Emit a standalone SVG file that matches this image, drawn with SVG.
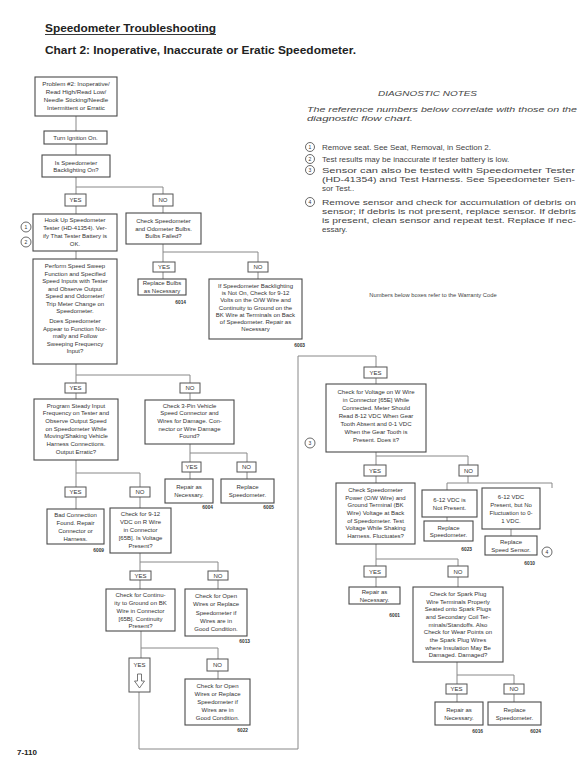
<svg xmlns="http://www.w3.org/2000/svg" width="583" height="774" viewBox="0 0 583 774">
<style>
.b{fill:#fff;stroke:#4a4a4a;stroke-width:1.1}
.y{fill:#fff;stroke:#555;stroke-width:1}
.t{font-family:"Liberation Sans",Arial,sans-serif;font-size:6px;fill:#333;text-anchor:middle}
.k{font-family:"Liberation Sans",Arial,sans-serif;font-size:4.8px;font-weight:bold;fill:#333;text-anchor:end}
.c{stroke:#888;fill:none;stroke-width:1}
.n{font-family:"Liberation Sans",Arial,sans-serif;font-size:8px;fill:#444}
.ci{fill:#fff;stroke:#444;stroke-width:0.8}
.cn{font-family:"Liberation Sans",Arial,sans-serif;font-size:5px;fill:#333;text-anchor:middle}
</style>
<rect width="583" height="774" fill="#fff"/>
<g id="title">
<text x="45" y="32" font-family="Liberation Sans,Arial,sans-serif" font-size="11" font-weight="bold" fill="#222" textLength="171" lengthAdjust="spacingAndGlyphs">Speedometer Troubleshooting</text>
<line x1="45" y1="34.5" x2="216" y2="34.5" stroke="#222" stroke-width="0.9"/>
<text x="45" y="54" font-family="Liberation Sans,Arial,sans-serif" font-size="11.5" font-weight="bold" fill="#222" textLength="311" lengthAdjust="spacingAndGlyphs">Chart 2: Inoperative, Inaccurate or Eratic Speedometer.</text>
</g>
<g id="connectors">
<path class="c" d="M76 116V131M76 144V155M76 177V187M76 187H163M76 187V194M163 187V194M76 206V214M163 206V213"/>
<path class="c" d="M163 244V252H258V262M163 252V262M163 272V279M258 272V279M76 251V259"/>
<path class="c" d="M76 364V375H190V383M76 375V383M76 393V399M190 393V400"/>
<path class="c" d="M190 444V453H247V462M190 453V462M190 472V479M247 472V479"/>
<path class="c" d="M76 460V473H140V487M76 473V487M76 497V509M140 497V508"/>
<path class="c" d="M140 553V562H218V571M140 562V571M140 580V589M218 580V589"/>
<path class="c" d="M141 631V648H218V659M141 648V658M218 671V679"/>
<path class="c" d="M139 692V749H298V356H376V367"/>
<path class="c" d="M376 378V384M376 452V456H468V465M376 456V465M376 476V483M468 476V483M447 483H552M447 483V490M552 483V488M447 517V521M511 529V536"/>
<path class="c" d="M376 544V559H458V566M376 559V566M376 577V587M458 577V587"/>
<path class="c" d="M457 662V675H514V684M457 675V684M457 694V702M514 694V702"/>
</g>
<g id="n1"><rect class="b" x="35" y="77" width="82" height="39"/>
<text class="t" style="font-size:6.2px"><tspan x="76" y="85.6">Problem #2: Inoperative/</tspan><tspan x="76" y="93.6">Read High/Read Low/</tspan><tspan x="76" y="101.6">Needle Sticking/Needle</tspan><tspan x="76" y="109.6">Intermittent or Erratic</tspan></text></g>
<g id="n2"><rect class="b" x="44" y="131" width="63" height="13"/><text class="t" x="75.5" y="139.7">Turn Ignition On.</text></g>
<g id="n3"><rect class="b" x="42" y="155" width="68" height="22"/>
<text class="t"><tspan x="76" y="164.5">Is Speedometer</tspan><tspan x="76" y="172">Backlighting On?</tspan></text></g>
<g id="yes1"><rect class="y" x="65" y="194" width="21" height="12"/><text class="t" x="75.5" y="202.2">YES</text></g>
<g id="no1"><rect class="y" x="153" y="194" width="20" height="12"/><text class="t" x="163" y="202.2">NO</text></g>
<g id="n4"><rect class="b" x="33" y="214" width="84" height="37"/>
<text class="t"><tspan x="75" y="222.1">Hook Up Speedometer</tspan><tspan x="75" y="230.1">Tester (HD-41354). Ver-</tspan><tspan x="75" y="238.1">ify That Tester Battery is</tspan><tspan x="75" y="246.1">OK.</tspan></text></g>
<g id="ref1"><circle class="ci" cx="26" cy="227" r="5"/><text class="cn" x="26" y="228.8">1</text></g>
<g id="ref2"><circle class="ci" cx="26" cy="242" r="5"/><text class="cn" x="26" y="243.8">2</text></g>
<g id="n5"><rect class="b" x="126" y="213" width="75" height="31"/>
<text class="t"><tspan x="163.5" y="222.9">Check Speedometer</tspan><tspan x="163.5" y="230.6">and Odometer Bulbs.</tspan><tspan x="163.5" y="238.3">Bulbs Failed?</tspan></text></g>
<g id="yes2"><rect class="y" x="153" y="262" width="22" height="10"/><text class="t" x="164" y="269.2">YES</text></g>
<g id="no2"><rect class="y" x="248" y="262" width="20" height="10"/><text class="t" x="258" y="269.2">NO</text></g>
<g id="n6"><rect class="b" x="138" y="279" width="48" height="16"/>
<text class="t"><tspan x="162" y="285.3">Replace Bulbs</tspan><tspan x="162" y="292.8">as Necessary</tspan></text>
<text class="k" x="186" y="304">6014</text></g>
<g id="n7"><rect class="b" x="209" y="279" width="93" height="60"/>
<text class="t"><tspan x="255.5" y="287.6">If Speedometer Backlighting</tspan><tspan x="255.5" y="294.9">is Not On, Check for 9-12</tspan><tspan x="255.5" y="302.2">Volts on the O/W Wire and</tspan><tspan x="255.5" y="309.5">Continuity to Ground on the</tspan><tspan x="255.5" y="316.8">BK Wire at Terminals on Back</tspan><tspan x="255.5" y="324.1">of Speedometer. Repair as</tspan><tspan x="255.5" y="331.4">Necessary</tspan></text>
<text class="k" x="305" y="347">6003</text></g>
<g id="n8"><rect class="b" x="33" y="259" width="84" height="105"/>
<text class="t"><tspan x="75" y="268.1">Perform Speed Sweep</tspan><tspan x="75" y="275.6">Function and Specified</tspan><tspan x="75" y="283.1">Speed Inputs with Tester</tspan><tspan x="75" y="290.6">and Observe Output</tspan><tspan x="75" y="298.1">Speed and Odometer/</tspan><tspan x="75" y="305.6">Trip Meter Change on</tspan><tspan x="75" y="313.1">Speedometer.</tspan><tspan x="75" y="323.1">Does Speedometer</tspan><tspan x="75" y="330.6">Appear to Function Nor-</tspan><tspan x="75" y="338.1">mally and Follow</tspan><tspan x="75" y="345.6">Sweeping Frequency</tspan><tspan x="75" y="353.1">Input?</tspan></text></g>
<g id="yes3"><rect class="y" x="65" y="383" width="21" height="10"/><text class="t" x="75.5" y="390.2">YES</text></g>
<g id="no3"><rect class="y" x="180" y="383" width="20" height="10"/><text class="t" x="190" y="390.2">NO</text></g>
<g id="n9"><rect class="b" x="34" y="399" width="84" height="61"/>
<text class="t"><tspan x="76" y="407.6">Program Steady Input</tspan><tspan x="76" y="415.3">Frequency on Tester and</tspan><tspan x="76" y="423">Observe Output Speed</tspan><tspan x="76" y="430.7">on Speedometer While</tspan><tspan x="76" y="438.4">Moving/Shaking Vehicle</tspan><tspan x="76" y="446.1">Harness Connections.</tspan><tspan x="76" y="453.8">Output Erratic?</tspan></text></g>
<g id="n10"><rect class="b" x="145" y="400" width="89" height="44"/>
<text class="t"><tspan x="189.5" y="407.6">Check 3-Pin Vehicle</tspan><tspan x="189.5" y="415.3">Speed Connector and</tspan><tspan x="189.5" y="423">Wires for Damage. Con-</tspan><tspan x="189.5" y="430.7">nector or Wire Damage</tspan><tspan x="189.5" y="438.4">Found?</tspan></text></g>
<g id="yes4"><rect class="y" x="182" y="462" width="19" height="10"/><text class="t" x="191.5" y="469.2">YES</text></g>
<g id="no4"><rect class="y" x="237" y="462" width="19" height="10"/><text class="t" x="246.5" y="469.2">NO</text></g>
<g id="n11"><rect class="b" x="165" y="479" width="48" height="24"/>
<text class="t"><tspan x="189" y="489.1">Repair as</tspan><tspan x="189" y="497.1">Necessary.</tspan></text>
<text class="k" x="213" y="509">6004</text></g>
<g id="n12"><rect class="b" x="221" y="479" width="53" height="24"/>
<text class="t"><tspan x="247.5" y="489.1">Replace</tspan><tspan x="247.5" y="497.1">Speedometer.</tspan></text>
<text class="k" x="274" y="509">6005</text></g>
<g id="yes5"><rect class="y" x="65" y="487" width="21" height="10"/><text class="t" x="75.5" y="494.2">YES</text></g>
<g id="no5"><rect class="y" x="130" y="487" width="20" height="10"/><text class="t" x="140" y="494.2">NO</text></g>
<g id="n13"><rect class="b" x="47" y="509" width="57" height="35"/>
<text class="t"><tspan x="75.5" y="516.6">Bad Connection</tspan><tspan x="75.5" y="524.6">Found. Repair</tspan><tspan x="75.5" y="532.6">Connector or</tspan><tspan x="75.5" y="540.6">Harness.</tspan></text>
<text class="k" x="104" y="552">6009</text></g>
<g id="n14"><rect class="b" x="110" y="508" width="61" height="45"/>
<text class="t"><tspan x="140.5" y="516.1">Check for 9-12</tspan><tspan x="140.5" y="524.1">VDC on R Wire</tspan><tspan x="140.5" y="532.1">in Connector</tspan><tspan x="140.5" y="540.1">[65B]. Is Voltage</tspan><tspan x="140.5" y="548.1">Present?</tspan></text></g>
<g id="yes6"><rect class="y" x="130" y="571" width="21" height="9"/><text class="t" x="140.5" y="577.7">YES</text></g>
<g id="no6"><rect class="y" x="208" y="571" width="20" height="9"/><text class="t" x="218" y="577.7">NO</text></g>
<g id="n15"><rect class="b" x="106" y="589" width="69" height="42"/>
<text class="t"><tspan x="140.5" y="597.1">Check for Continu-</tspan><tspan x="140.5" y="604.9">ity to Ground on BK</tspan><tspan x="140.5" y="612.7">Wire in Connector</tspan><tspan x="140.5" y="620.5">[65B]. Continuity</tspan><tspan x="140.5" y="628.3">Present?</tspan></text></g>
<g id="n16"><rect class="b" x="185" y="589" width="62" height="47"/>
<text class="t"><tspan x="216" y="598.1">Check for Open</tspan><tspan x="216" y="606.3">Wires or Replace</tspan><tspan x="216" y="614.5">Speedometer if</tspan><tspan x="216" y="622.7">Wires are in</tspan><tspan x="216" y="630.9">Good Condition.</tspan></text>
<text class="k" x="250" y="643">6013</text></g>
<g id="yes7"><rect class="y" x="129" y="658" width="21" height="34"/><text class="t" x="139.5" y="667">YES</text>
<polygon points="137.5,674 141.5,674 141.5,681 144.5,681 139.5,688 134.5,681 137.5,681" fill="#fff" stroke="#555" stroke-width="0.8"/></g>
<g id="no7"><rect class="y" x="207" y="659" width="21" height="12"/><text class="t" x="217.5" y="667.2">NO</text></g>
<g id="n17"><rect class="b" x="185" y="679" width="65" height="46"/>
<text class="t"><tspan x="217.5" y="687.6">Check for Open</tspan><tspan x="217.5" y="695.8">Wires or Replace</tspan><tspan x="217.5" y="704">Speedometer if</tspan><tspan x="217.5" y="712.2">Wires are in</tspan><tspan x="217.5" y="720.4">Good Condition.</tspan></text>
<text class="k" x="248" y="732">6022</text></g>
<g id="yes8"><rect class="y" x="364" y="367" width="23" height="11"/><text class="t" x="375.5" y="374.7">YES</text></g>
<g id="n18"><rect class="b" x="326" y="384" width="100" height="68"/>
<text class="t"><tspan x="376" y="393.6">Check for Voltage on W Wire</tspan><tspan x="376" y="401.6">in Connector [65E] While</tspan><tspan x="376" y="409.6">Connected. Meter Should</tspan><tspan x="376" y="417.6">Read 8-12 VDC When Gear</tspan><tspan x="376" y="425.6">Tooth Absent and 0-1 VDC</tspan><tspan x="376" y="433.6">When the Gear Tooth is</tspan><tspan x="376" y="441.6">Present. Does it?</tspan></text></g>
<g id="ref3"><circle class="ci" cx="310" cy="443" r="5"/><text class="cn" x="310" y="444.8">3</text></g>
<g id="yes9"><rect class="y" x="364" y="465" width="22" height="11"/><text class="t" x="375" y="472.7">YES</text></g>
<g id="no9"><rect class="y" x="459" y="465" width="19" height="11"/><text class="t" x="468.5" y="472.7">NO</text></g>
<g id="n19"><rect class="b" x="336" y="483" width="79" height="61"/>
<text class="t"><tspan x="375.5" y="492.1">Check Speedometer</tspan><tspan x="375.5" y="499.7">Power (O/W Wire) and</tspan><tspan x="375.5" y="507.3">Ground Terminal (BK</tspan><tspan x="375.5" y="514.9">Wire) Voltage at Back</tspan><tspan x="375.5" y="522.5">of Speedometer. Test</tspan><tspan x="375.5" y="530.1">Voltage While Shaking</tspan><tspan x="375.5" y="537.7">Harness. Fluctuates?</tspan></text></g>
<g id="n20"><rect class="b" x="422" y="490" width="55" height="27"/>
<text class="t"><tspan x="449.5" y="501.6">6-12 VDC is</tspan><tspan x="449.5" y="509.6">Not Present.</tspan></text></g>
<g id="n21"><rect class="b" x="424" y="521" width="49" height="20"/>
<text class="t"><tspan x="448.5" y="529.6">Replace</tspan><tspan x="448.5" y="537.1">Speedometer.</tspan></text>
<text class="k" x="472" y="551">6023</text></g>
<g id="n22"><rect class="b" x="482" y="488" width="58" height="41"/>
<text class="t"><tspan x="511" y="498.6">6-12 VDC</tspan><tspan x="511" y="506.6">Present, but No</tspan><tspan x="511" y="514.6">Fluctuation to 0-</tspan><tspan x="511" y="522.6">1 VDC.</tspan></text></g>
<g id="n23"><rect class="b" x="485" y="536" width="52" height="19"/>
<text class="t"><tspan x="511" y="544.1">Replace</tspan><tspan x="511" y="551.6">Speed Sensor.</tspan></text>
<text class="k" x="535" y="565">6010</text></g>
<g id="ref4"><circle class="ci" cx="547" cy="552" r="5"/><text class="cn" x="547" y="553.8">4</text></g>
<g id="yes10"><rect class="y" x="364" y="566" width="22" height="11"/><text class="t" x="375" y="573.7">YES</text></g>
<g id="no10"><rect class="y" x="448" y="566" width="20" height="11"/><text class="t" x="458" y="573.7">NO</text></g>
<g id="n24"><rect class="b" x="349" y="587" width="51" height="17"/>
<text class="t"><tspan x="374.5" y="594.1">Repair as</tspan><tspan x="374.5" y="601.6">Necessary.</tspan></text>
<text class="k" x="400" y="617">6001</text></g>
<g id="n25"><rect class="b" x="413" y="587" width="90" height="75"/>
<text class="t"><tspan x="458" y="595.8">Check for Spark Plug</tspan><tspan x="458" y="603.5">Wire Terminals Properly</tspan><tspan x="458" y="611.2">Seated onto Spark Plugs</tspan><tspan x="458" y="618.9">and Secondary Coil Ter-</tspan><tspan x="458" y="626.6">minals/Standoffs. Also</tspan><tspan x="458" y="634.3">Check for Wear Points on</tspan><tspan x="458" y="642">the Spark Plug Wires</tspan><tspan x="458" y="649.7">where Insulation May Be</tspan><tspan x="458" y="657.4">Damaged. Damaged?</tspan></text></g>
<g id="yes11"><rect class="y" x="446" y="684" width="21" height="10"/><text class="t" x="456.5" y="691.2">YES</text></g>
<g id="no11"><rect class="y" x="504" y="684" width="20" height="10"/><text class="t" x="514" y="691.2">NO</text></g>
<g id="n26"><rect class="b" x="435" y="702" width="48" height="23"/>
<text class="t"><tspan x="459" y="711.6">Repair as</tspan><tspan x="459" y="719.6">Necessary.</tspan></text>
<text class="k" x="483" y="733">6016</text></g>
<g id="n27"><rect class="b" x="488" y="702" width="53" height="23"/>
<text class="t"><tspan x="514.5" y="711.6">Replace</tspan><tspan x="514.5" y="719.6">Speedometer.</tspan></text>
<text class="k" x="541" y="733">6024</text></g>
<g id="notes">
<text class="n" x="378" y="95.5" font-style="italic" textLength="99" lengthAdjust="spacingAndGlyphs">DIAGNOSTIC NOTES</text>
<text class="n" x="307" y="111.5" font-style="italic" textLength="270" lengthAdjust="spacingAndGlyphs">The reference numbers below correlate with those on the</text>
<text class="n" x="307" y="120.8" font-style="italic" textLength="106" lengthAdjust="spacingAndGlyphs">diagnostic flow chart.</text>
<circle class="ci" cx="310" cy="147" r="4.5"/><text class="cn" x="310" y="148.8">1</text>
<text class="n" x="322" y="149.8">Remove seat. See Seat, Removal, in Section 2.</text>
<circle class="ci" cx="310" cy="159" r="4.5"/><text class="cn" x="310" y="160.8">2</text>
<text class="n" x="322" y="161.8">Test results may be inaccurate if tester battery is low.</text>
<circle class="ci" cx="310" cy="170" r="4.5"/><text class="cn" x="310" y="171.8">3</text>
<text class="n" x="322" y="172.8" textLength="253" lengthAdjust="spacingAndGlyphs">Sensor can also be tested with Speedometer Tester</text>
<text class="n" x="322" y="182" textLength="253" lengthAdjust="spacingAndGlyphs">(HD-41354) and Test Harness. See Speedometer Sen-</text>
<text class="n" x="322" y="191.2">sor Test..</text>
<circle class="ci" cx="310" cy="202" r="4.5"/><text class="cn" x="310" y="203.8">4</text>
<text class="n" x="322" y="204.8" textLength="254" lengthAdjust="spacingAndGlyphs">Remove sensor and check for accumulation of debris on</text>
<text class="n" x="322" y="214" textLength="254" lengthAdjust="spacingAndGlyphs">sensor; if debris is not present, replace sensor. If debris</text>
<text class="n" x="322" y="223.2" textLength="254" lengthAdjust="spacingAndGlyphs">is present, clean sensor and repeat test. Replace if nec-</text>
<text class="n" x="322" y="232.4">essary.</text>
<text x="433" y="297" text-anchor="middle" font-family="Liberation Sans,Arial,sans-serif" font-size="5.8" fill="#444">Numbers below boxes refer to the Warranty Code</text>
</g>
<text x="17" y="755" font-family="Liberation Sans,Arial,sans-serif" font-size="8" font-weight="bold" fill="#222">7-110</text>
</svg>
